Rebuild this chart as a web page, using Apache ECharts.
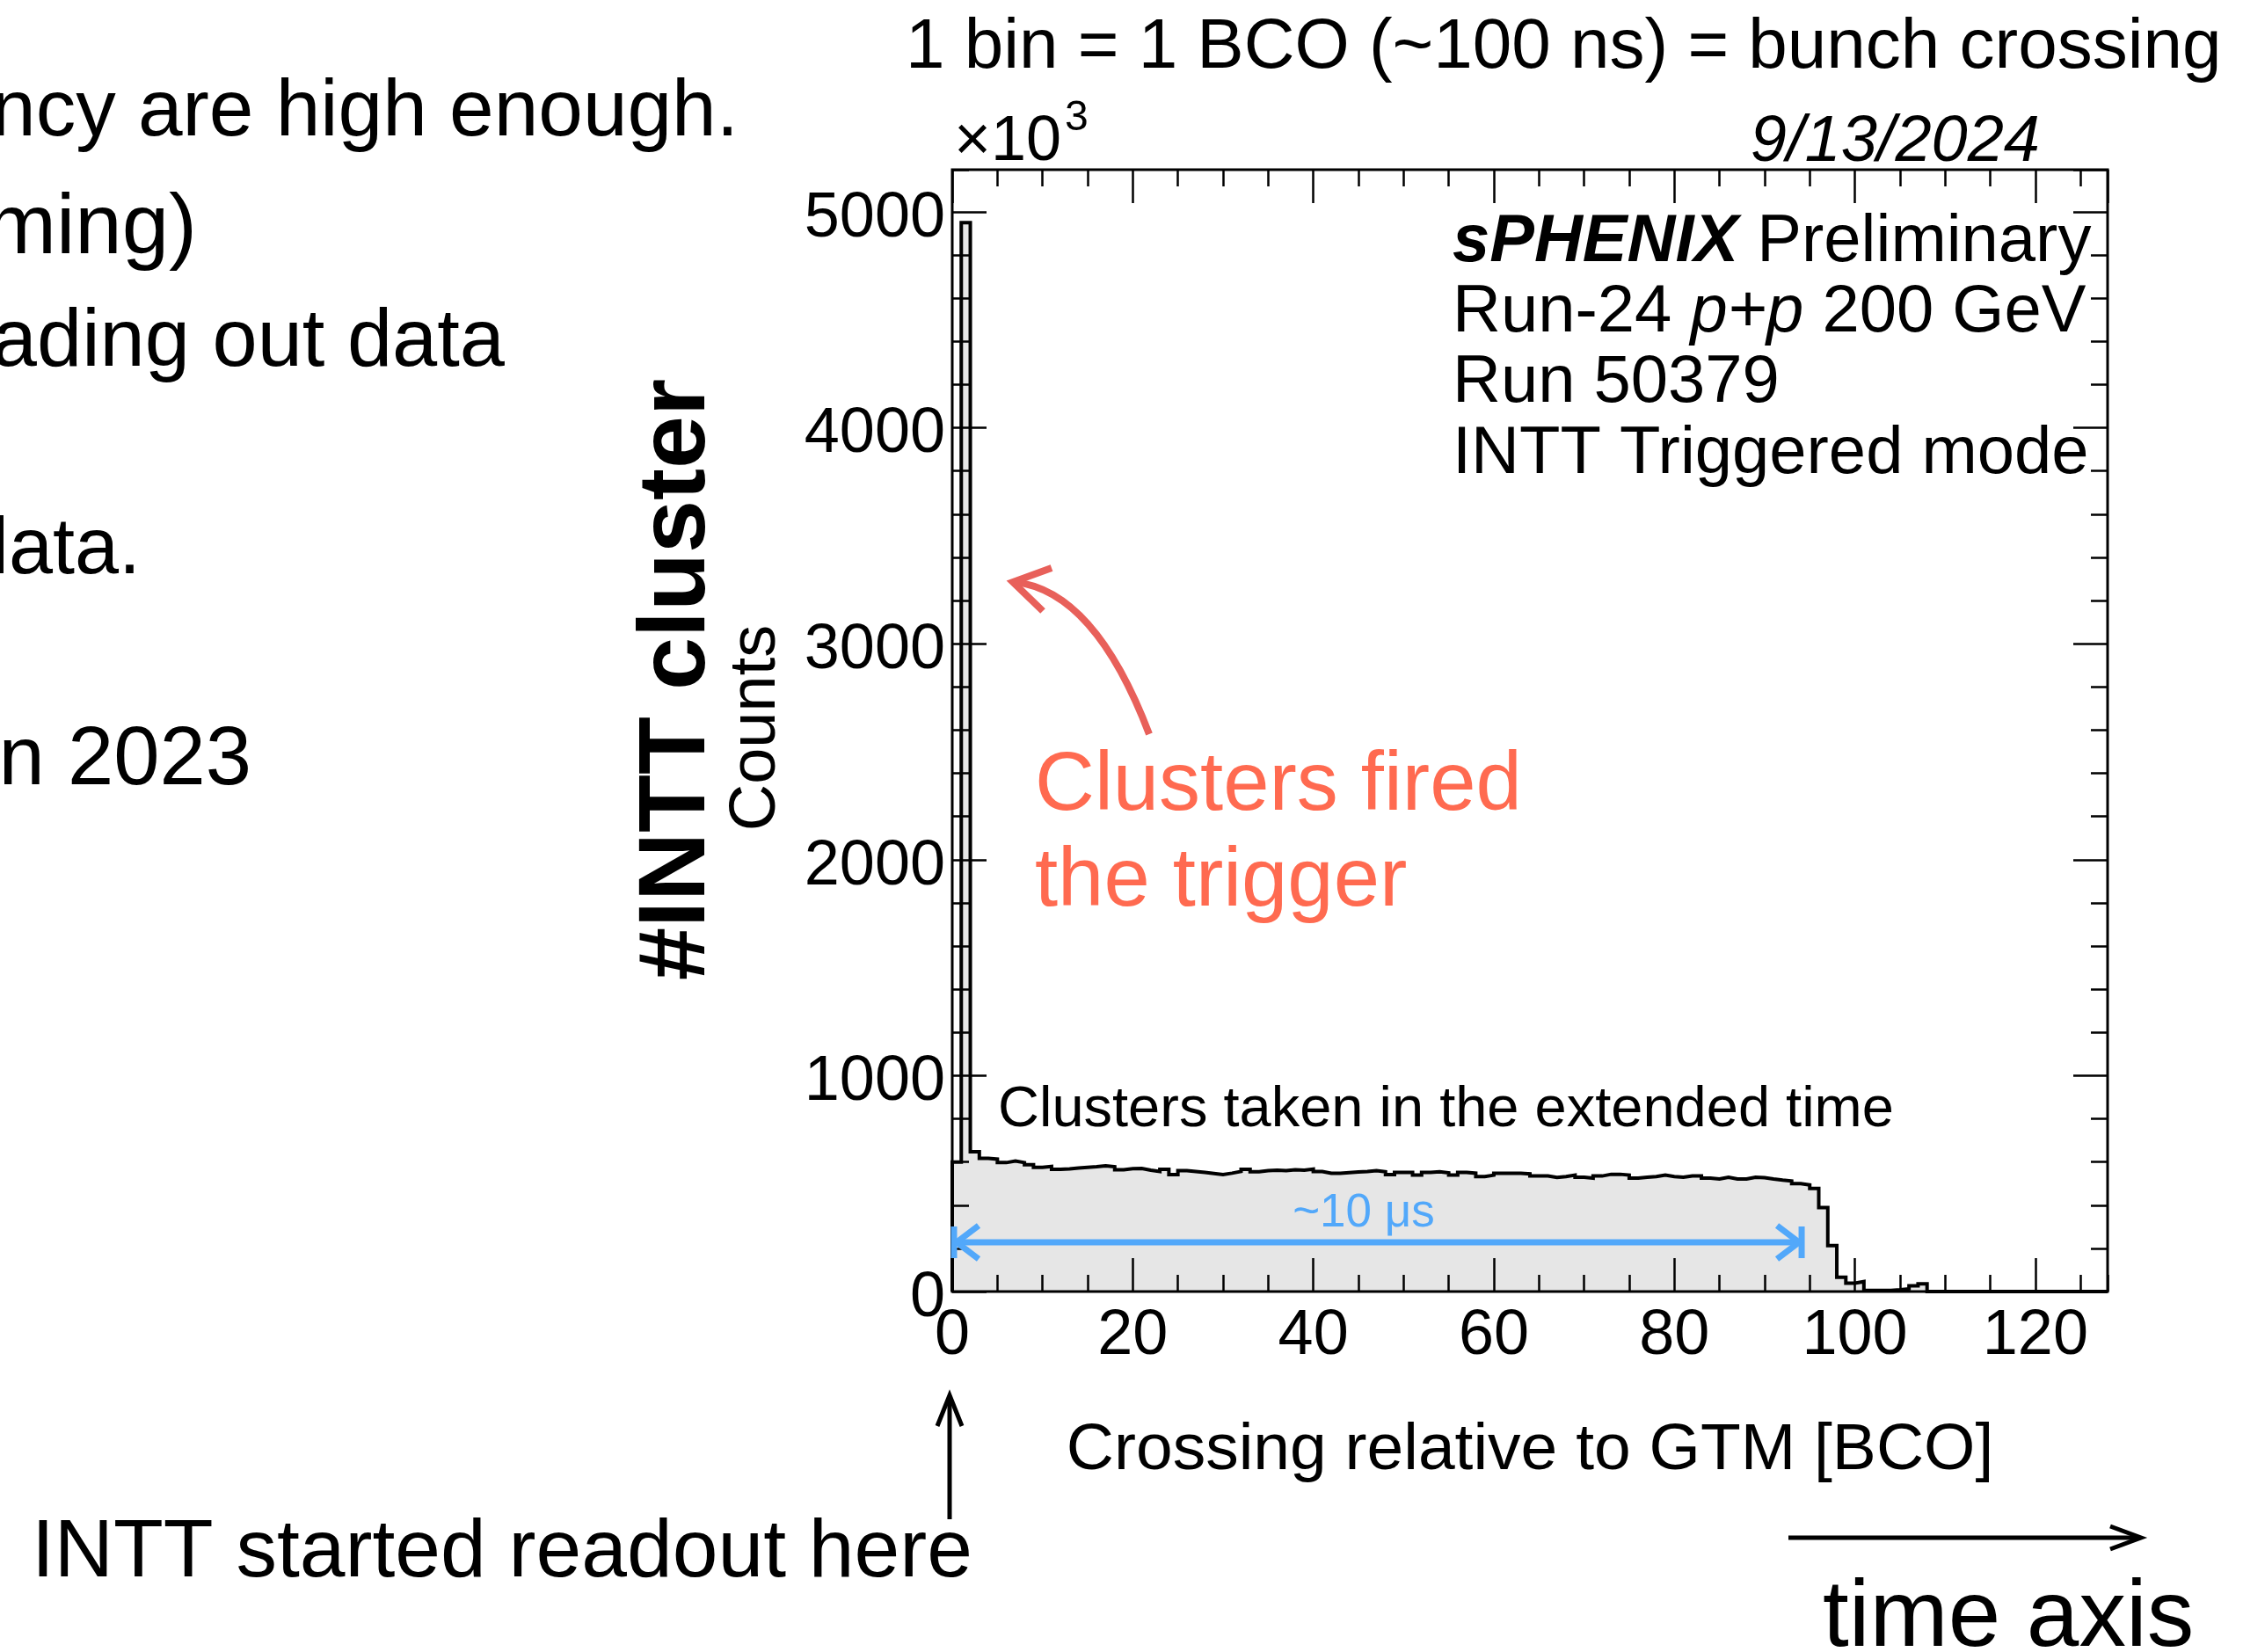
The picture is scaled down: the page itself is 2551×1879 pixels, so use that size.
<!DOCTYPE html>
<html><head><meta charset="utf-8">
<script src="https://cdn.jsdelivr.net/npm/echarts@6/dist/echarts.min.js"></script>
<style>html,body{margin:0;padding:0;background:#fff;overflow:hidden}#c{width:2551px;height:1879px}</style>
</head><body><div id="c"></div>
<script>
// ---- data ----
const xMin = 0, xMax = 128;            // BCO, 1 bin = 1 BCO
const yMax = 5195;                     // axis top, units of 10^3 counts
const counts = [
 600, 4950, 647, 617, 613, 597, 604, 597, 587, 575,
 579, 566, 568, 572, 575, 578, 582, 578, 564, 569,
 570, 562, 556, 566, 541, 560, 556, 552, 547, 542,
 548, 556, 566, 555, 560, 562, 560, 564, 562, 567,
 556, 548, 548, 551, 554, 556, 560, 555, 541, 552,
 552, 539, 552, 555, 550, 539, 552, 548, 532, 539,
 548, 548, 548, 545, 535, 535, 528, 532, 539, 529,
 525, 535, 543, 543, 539, 525, 529, 532, 539, 532,
 529, 535, 535, 525, 521, 529, 521, 521, 529, 527,
 521, 516, 512, 500, 494, 477, 389, 213, 66, 39,
 46, 5, 5, 5, 8, 12, 26, 36, 0, 0,
 0, 0, 0, 0, 0, 0, 0, 0, 0, 0,
 0, 0, 0, 0, 0, 0, 0, 0
];
const xTickLabels = [0, 20, 40, 60, 80, 100, 120];
const yTickLabels = [0, 1000, 2000, 3000, 4000, 5000];
const spanBCO = [0, 94.3];      // blue "~10 us" arrow extent
const spanLevel = 228;          // its height on the count axis

const FONT = "'Liberation Sans', Arial, Helvetica, sans-serif";
const chart = echarts.init(document.getElementById('c'), null, {renderer: 'canvas'});

// histogram outline points at bin edges
const histData = [[xMin, 0]];
counts.forEach((v, i) => histData.push([i, v]));
histData.push([xMax, counts[counts.length - 1]]);
histData.push([xMax, 0]);

function xAx(pos, interval, len, label) {
  return {
    type: 'value', position: pos, min: xMin, max: xMax, interval: interval, z: 5,
    axisLine: {show: false, onZero: false},
    axisTick: {show: true, inside: true, length: len, lineStyle: {color: '#000', width: 2.5}},
    axisLabel: label ? {show: true, fontSize: 72, fontFamily: FONT, color: '#000', margin: 15,
      showMaxLabel: false, formatter: v => xTickLabels.includes(v) ? String(v) : ''} : {show: false},
    splitLine: {show: false}
  };
}
function yAx(pos, interval, len, label) {
  return {
    type: 'value', position: pos, min: 0, max: yMax, interval: interval, z: 5,
    axisLine: {show: false, onZero: false},
    axisTick: {show: true, inside: true, length: len, lineStyle: {color: '#000', width: 2.5}},
    axisLabel: label ? {show: true, fontSize: 72, fontFamily: FONT, color: '#000', margin: 8,
      verticalAlign: 'top', lineHeight: 16,
      showMaxLabel: false, formatter: v => yTickLabels.includes(v) ? String(v) : ''} : {show: false},
    splitLine: {show: false}
  };
}

function txt(text, x, y, size, opts) {
  opts = opts || {};
  const align = opts.align || 'left';
  return {
    type: 'text', z: 20, rotation: opts.rot || 0, x: x, y: y,
    style: {
      text: text, x: 0, y: 0,
      font: (opts.style || '') + ' ' + (opts.weight || 'normal') + ' ' + size + 'px ' + FONT,
      fill: opts.color || '#000',
      textAlign: align, align: align,
      textVerticalAlign: 'middle', verticalAlign: 'middle'
    }
  };
}

const red = '#E8605A', redText = '#FF6A50', blue = '#52A8FA';
const LEG = 76;

const graphics = [
  // slide text on the left (clipped by the page edge)
  txt('ncy are high enough.', 840, 129, 91, {align: 'right'}),
  txt('ming)', 224, 262, 96, {align: 'right'}),
  txt('ading out data', 574, 391, 92, {align: 'right'}),
  txt('lata.', 160, 627, 90, {align: 'right'}),
  txt('n 2023', 286, 866, 94, {align: 'right'}),
  // top caption
  txt('1 bin = 1 BCO (~100 ns) = bunch crossing', 1030, 55, 80),
  // exponent and date
  txt('\u00d710', 1085, 162, 72),
  txt('3', 1211, 135, 48),
  txt('9/13/2024', 2320, 162, 74, {align: 'right', style: 'italic'}),
  // legend block
  {type: 'text', z: 20, x: 1652, y: 276, style: {text: '{b|sPHENIX}{r| Preliminary}', x: 0, y: 0,
    textAlign: 'left', align: 'left', textVerticalAlign: 'middle', verticalAlign: 'middle',
    rich: {b: {fontSize: LEG, fontFamily: FONT, fontWeight: 'bold', fontStyle: 'italic', fill: '#000', color: '#000'},
           r: {fontSize: LEG, fontFamily: FONT, fill: '#000', color: '#000'}}}},
  {type: 'text', z: 20, x: 1652, y: 356, style: {text: '{r|Run-24 }{i|p+p}{r| 200 GeV}', x: 0, y: 0,
    textAlign: 'left', align: 'left', textVerticalAlign: 'middle', verticalAlign: 'middle',
    rich: {i: {fontSize: LEG, fontFamily: FONT, fontStyle: 'italic', fill: '#000', color: '#000'},
           r: {fontSize: LEG, fontFamily: FONT, fill: '#000', color: '#000'}}}},
  txt('Run 50379', 1652, 436, LEG),
  txt('INTT Triggered mode', 1652, 517, LEG),
  // in-plot annotations
  txt('Clusters taken in the extended time', 1135, 1263, 65),
  txt('~10 \u03bcs', 1551, 1380, 53, {align: 'center', color: blue}),
  txt('Clusters fired', 1177, 895, 94, {color: redText}),
  txt('the trigger', 1177, 1004, 94, {color: redText}),
  // axis titles
  txt('Counts', 861, 828, 74, {align: 'center', rot: Math.PI / 2}),
  txt('#INTT cluster', 771, 773, 108, {align: 'center', rot: Math.PI / 2, weight: 'bold'}),
  txt('Crossing relative to GTM [BCO]', 1740, 1650, 75, {align: 'center'}),
  // bottom slide text
  txt('INTT started readout here', 36, 1767, 93),
  txt('time axis', 2073, 1842, 107),
  // red curved arrow
  {type: 'bezierCurve', z: 20, shape: {x1: 1307, y1: 835, x2: 1154, y2: 662, cpx1: 1245, cpy1: 672},
    style: {stroke: red, lineWidth: 8, fill: null}},
  {type: 'polyline', z: 20, shape: {points: [[1196, 646], [1152, 662], [1186, 695]]},
    style: {stroke: red, lineWidth: 8, fill: null, lineJoin: 'miter'}},
  // black arrows
  {type: 'line', z: 20, shape: {x1: 1080, y1: 1728, x2: 1080, y2: 1590}, style: {stroke: '#000', lineWidth: 5}},
  {type: 'polyline', z: 20, shape: {points: [[1066, 1622], [1080, 1587], [1094, 1622]]},
    style: {stroke: '#000', lineWidth: 5, fill: null}},
  {type: 'line', z: 20, shape: {x1: 2034, y1: 1749, x2: 2432, y2: 1749}, style: {stroke: '#000', lineWidth: 5}},
  {type: 'polyline', z: 20, shape: {points: [[2400, 1736], [2435, 1749], [2400, 1762]]},
    style: {stroke: '#000', lineWidth: 5, fill: null}}
];

const option = {
  animation: false,
  backgroundColor: '#fff',
  grid: {left: 1083, top: 193, width: 1314, height: 1276, show: true, borderColor: '#000',
         borderWidth: 3, backgroundColor: 'transparent', z: 10, containLabel: false},
  xAxis: [xAx('bottom', 20, 38, true), xAx('bottom', 5, 19, false), xAx('top', 20, 38, false), xAx('top', 5, 19, false)],
  yAxis: [yAx('left', 1000, 39, true), yAx('left', 200, 19, false), yAx('right', 1000, 39, false), yAx('right', 200, 19, false)],
  series: [{
    type: 'line', xAxisIndex: 0, yAxisIndex: 0, data: histData, step: 'end',
    symbol: 'none', z: 2, lineStyle: {color: '#000', width: 4, join: 'miter'},
    areaStyle: {color: '#e6e6e6', opacity: 1, origin: 'start'}
  }],
  graphic: graphics
};
chart.setOption(option);

// blue double arrow in data coordinates
const pL = chart.convertToPixel({gridIndex: 0}, [spanBCO[0], spanLevel]);
const pR = chart.convertToPixel({gridIndex: 0}, [spanBCO[1], spanLevel]);
const yb = pL[1];
const blueEls = [
  {type: 'line', z: 20, shape: {x1: pL[0] + 2, y1: yb, x2: pR[0] - 2, y2: yb}, style: {stroke: blue, lineWidth: 7}},
  {type: 'line', z: 20, shape: {x1: pL[0] + 2, y1: yb - 18, x2: pL[0] + 2, y2: yb + 18}, style: {stroke: blue, lineWidth: 7}},
  {type: 'polyline', z: 20, shape: {points: [[pL[0] + 30, yb - 19], [pL[0] + 5, yb], [pL[0] + 30, yb + 19]]}, style: {stroke: blue, lineWidth: 7, fill: null}},
  {type: 'line', z: 20, shape: {x1: pR[0] - 2, y1: yb - 18, x2: pR[0] - 2, y2: yb + 18}, style: {stroke: blue, lineWidth: 7}},
  {type: 'polyline', z: 20, shape: {points: [[pR[0] - 30, yb - 19], [pR[0] - 5, yb], [pR[0] - 30, yb + 19]]}, style: {stroke: blue, lineWidth: 7, fill: null}}
];
chart.setOption({graphic: graphics.concat(blueEls)});
</script>
</body></html>
